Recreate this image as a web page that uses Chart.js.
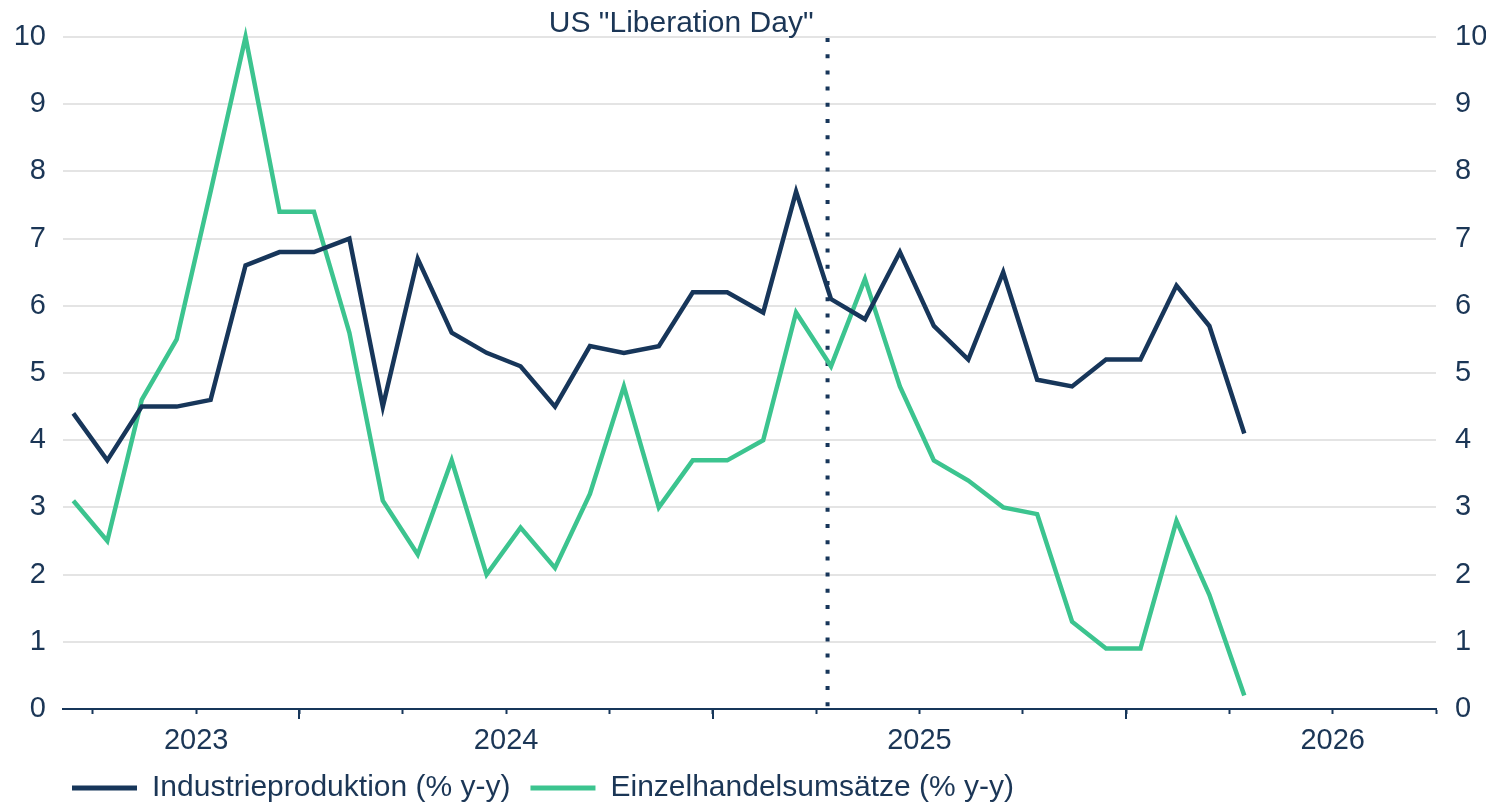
<!DOCTYPE html>
<html>
<head>
<meta charset="utf-8">
<script src="https://cdn.jsdelivr.net/npm/chart.js@4.4.1/dist/chart.umd.min.js"></script>
<style>
  html, body { margin: 0; padding: 0; background: #ffffff; }
  #wrap { width: 1486px; height: 803px; position: relative; }
</style>
</head>
<body>
<div id="wrap"><canvas id="chart"></canvas></div>
<script>
// ---- Data ----
const months = [
  '2023-06','2023-07','2023-08','2023-09','2023-10','2023-11','2023-12',
  '2024-01','2024-02','2024-03','2024-04','2024-05','2024-06','2024-07','2024-08','2024-09','2024-10','2024-11','2024-12',
  '2025-01','2025-02','2025-03','2025-04','2025-05','2025-06','2025-07','2025-08','2025-09','2025-10','2025-11','2025-12',
  '2026-01','2026-02','2026-03','2026-04'
];
const industrieproduktion = [4.4,3.7,4.5,4.5,4.6,6.6,6.8,6.8,7.0,4.5,6.7,5.6,5.3,5.1,4.5,5.4,5.3,5.4,6.2,6.2,5.9,7.7,6.1,5.8,6.8,5.7,5.2,6.5,4.9,4.8,5.2,5.2,6.3,5.7,4.1];
const einzelhandelsumsaetze = [3.1,2.5,4.6,5.5,7.7,10.0,7.4,7.4,5.6,3.1,2.3,3.7,2.0,2.7,2.1,3.2,4.8,3.0,3.7,3.7,4.0,5.9,5.1,6.4,4.8,3.7,3.4,3.0,2.9,1.3,0.9,0.9,2.8,1.7,0.2];
const seriesNames = ['Industrieproduktion (% y-y)', 'Einzelhandelsumsätze (% y-y)'];
const yearLabels = { '2023-10': '2023', '2024-07': '2024', '2025-07': '2025', '2026-07': '2026' };
const yTicks = [0,1,2,3,4,5,6,7,8,9,10];
const eventLabel = 'US "Liberation Day"';
const eventDate = '2025-04-11';
const axisStart = '2023-06-05';
const axisEnd = '2026-10-01';

// ---- Helpers (date -> month units since Jan 2024) ----
function dateToX(s) {
  const p = s.split('-').map(Number);
  const y = p[0], m = p[1], d = p[2] || 15;
  const dim = new Date(y, m, 0).getDate();
  return (y - 2024) * 12 + (m - 1) + (d - 1) / dim;
}
const NAVY = '#17365a';
const GREEN = '#3cc48f';
const TEXT = '#1b3656';
const FONT = '"Liberation Sans", Arial, sans-serif';
const FS = 29;     // tick labels
const FS_L = 30;   // legend + annotation

const xMin = dateToX(axisStart), xMax = dateToX(axisEnd);
const quarterTicks = [];
for (let v = Math.ceil(xMin / 3) * 3; v <= xMax + 1e-9; v += 3) quarterTicks.push(v);
const yearTicks = quarterTicks.filter(v => v % 12 === 0);
const labelMap = {};
Object.keys(yearLabels).forEach(k => { labelMap[Math.round(dateToX(k + '-01'))] = yearLabels[k]; });

const LEG_PAD = 20;
const LEG_H = 40;

const extras = {
  id: 'extras',
  afterLayout(chart) {
    const lg = chart.legend;
    if (lg) {
      lg.left = 72 - LEG_PAD;
      lg.top = 788 - (LEG_PAD + FS_L / 2);
    }
  },
  beforeDatasetsDraw(chart) {
    const {ctx, chartArea, scales} = chart;
    const px = scales.x.getPixelForValue(dateToX(eventDate));
    ctx.save();
    ctx.strokeStyle = NAVY;
    ctx.lineWidth = 4;
    ctx.setLineDash([4, 12.2]);
    ctx.beginPath();
    ctx.moveTo(px, chartArea.top + 1);
    ctx.lineTo(px, chartArea.bottom);
    ctx.stroke();
    ctx.restore();
  },
  afterDraw(chart) {
    const {ctx, chartArea, scales} = chart;
    ctx.save();
    ctx.strokeStyle = NAVY;
    ctx.lineWidth = 2;
    yearTicks.forEach(v => {
      const px = Math.round(scales.x.getPixelForValue(v));
      ctx.beginPath();
      ctx.moveTo(px, chartArea.bottom);
      ctx.lineTo(px, chartArea.bottom + 10);
      ctx.stroke();
    });
    const ex = scales.x.getPixelForValue(dateToX(eventDate));
    ctx.fillStyle = TEXT;
    ctx.font = FS_L + 'px ' + FONT;
    ctx.textAlign = 'right';
    ctx.textBaseline = 'alphabetic';
    ctx.fillText(eventLabel, ex - 14, 31.5);
    ctx.restore();
  }
};

const ctx = document.getElementById('chart').getContext('2d');
new Chart(ctx, {
  type: 'line',
  data: {
    datasets: [
      {
        label: seriesNames[0],
        data: months.map((m, i) => ({ x: dateToX(m + '-14'), y: industrieproduktion[i] })),
        borderColor: NAVY, backgroundColor: NAVY,
        borderWidth: 4.5, pointRadius: 0, tension: 0, clip: false, yAxisID: 'y'
      },
      {
        label: seriesNames[1],
        data: months.map((m, i) => ({ x: dateToX(m + '-14'), y: einzelhandelsumsaetze[i] })),
        borderColor: GREEN, backgroundColor: GREEN,
        borderWidth: 4.5, pointRadius: 0, tension: 0, clip: false, yAxisID: 'y'
      }
    ]
  },
  options: {
    responsive: true,
    maintainAspectRatio: false,
    animation: false,
    events: [],
    layout: { padding: { top: 37, left: 0, right: 0, bottom: 0 } },
    plugins: {
      tooltip: { enabled: false },
      title: { display: false },
      legend: {
        display: true,
        position: 'bottom',
        align: 'start',
        maxHeight: LEG_H,
        labels: {
          boxWidth: 65,
          boxHeight: 5,
          padding: LEG_PAD,
          color: TEXT,
          font: { family: FONT, size: FS_L },
          generateLabels(chart) {
            return Chart.defaults.plugins.legend.labels.generateLabels(chart).map(it => Object.assign(it, { lineWidth: 0 }));
          }
        }
      }
    },
    scales: {
      x: {
        type: 'linear',
        min: xMin,
        max: xMax,
        afterBuildTicks(scale) { scale.ticks = quarterTicks.map(v => ({ value: v })); },
        afterFit(scale) { scale.height = 803 - 709 - LEG_H; },
        grid: { display: true, drawOnChartArea: false, drawTicks: true, tickLength: 5, color: NAVY, tickColor: NAVY, tickWidth: 2 },
        border: { display: true, color: NAVY, width: 2 },
        ticks: {
          autoSkip: false, maxRotation: 0, padding: 10,
          color: TEXT, font: { family: FONT, size: FS },
          callback(v) { return labelMap[Math.round(v)] || ''; }
        }
      },
      y: {
        position: 'left',
        min: 0, max: 10,
        afterBuildTicks(scale) { scale.ticks = yTicks.map(v => ({ value: v })); },
        afterFit(scale) { scale.width = 63; },
        grid: { color: '#e4e4e4', lineWidth: 2, drawTicks: false },
        border: { display: false },
        ticks: { padding: 17, color: TEXT, font: { family: FONT, size: FS } }
      },
      y2: {
        position: 'right',
        min: 0, max: 10,
        afterBuildTicks(scale) { scale.ticks = yTicks.map(v => ({ value: v })); },
        afterFit(scale) { scale.width = 50; },
        grid: { display: false, drawTicks: false },
        border: { display: false },
        ticks: { padding: 19, color: TEXT, font: { family: FONT, size: FS } }
      }
    }
  },
  plugins: [extras]
});
</script>
</body>
</html>
